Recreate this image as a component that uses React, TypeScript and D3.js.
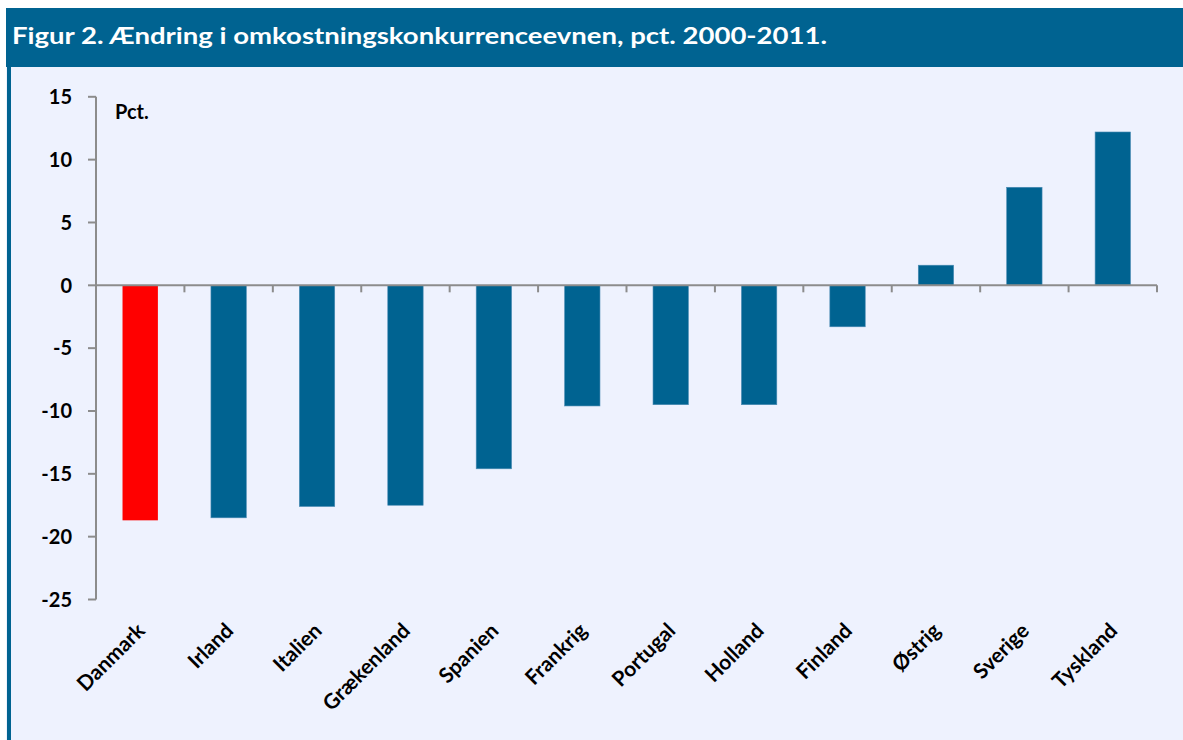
import React from "react";
import * as d3 from "d3";

const categories = ["Danmark", "Irland", "Italien", "Grækenland", "Spanien", "Frankrig", "Portugal", "Holland", "Finland", "Østrig", "Sverige", "Tyskland"];
const values = [-18.7, -18.5, -17.6, -17.5, -14.6, -9.6, -9.5, -9.5, -3.3, 1.6, 7.8, 12.2];
const highlight = ["Danmark"];
const yTicks = [15, 10, 5, 0, -5, -10, -15, -20, -25];
const title = "Figur 2. Ændring i omkostningskonkurrenceevnen, pct. 2000-2011.";
const unitLabel = "Pct.";

const W = 1183;
const H = 740;
const FONT = "Lato, 'Open Sans', 'DejaVu Sans', sans-serif";

export default function App() {
  const x0 = 96, x1 = 1157;
  const y = d3.scaleLinear().domain([-25, 15]).range([599.5, 96.8]);
  const x = d3.scaleBand<string>().domain(categories).range([x0, x1]).paddingInner(0.6).paddingOuter(0.3);
  const band = d3.scaleBand<string>().domain(categories).range([x0, x1]);
  const zeroY = y(0);

  return (
    <svg width={W} height={H} style={{ position: "absolute", left: 0, top: 0 }} fontFamily={FONT}>
      <rect x={0} y={0} width={W} height={H} fill="#ffffff" />
      <rect x={6} y={67} width={W - 6} height={H - 67} fill="#EEF2FE" />
      <rect x={6} y={8} width={W - 6} height={59} fill="#006391" />
      <rect x={7} y={67} width={4} height={H - 67} fill="#006391" />
      <text x={12} y={44} fill="#ffffff" fontSize={23} fontWeight={700} textLength={815} lengthAdjust="spacingAndGlyphs">{title}</text>

      {/* bars */}
      {categories.map((c, i) => {
        const v = values[i];
        const top = Math.min(y(v), zeroY);
        const h = Math.abs(y(v) - zeroY);
        return (
          <rect key={c} x={x(c)} y={top} width={x.bandwidth()} height={h}
            fill={highlight.includes(c) ? "#FF0000" : "#006391"}
            stroke={highlight.includes(c) ? "none" : "#4a8bb3"} strokeWidth={0.6} />
        );
      })}

      {/* y axis */}
      <line x1={x0} x2={x0} y1={y(15)} y2={y(-25)} stroke="#8c8c8c" strokeWidth={2} />
      {yTicks.map((t) => (
        <g key={t}>
          <line x1={x0 - 8} x2={x0} y1={y(t)} y2={y(t)} stroke="#8c8c8c" strokeWidth={2} />
          <text x={72} y={y(t)} dy="0.36em" textAnchor="end" fontSize={20} fontWeight={700} fill="#000">{t}</text>
        </g>
      ))}

      {/* x axis at zero */}
      <line x1={x0} x2={x1} y1={zeroY} y2={zeroY} stroke="#8c8c8c" strokeWidth={2} />
      {categories.map((c) => (
        <line key={"t" + c} x1={(band(c) as number) + band.bandwidth()} x2={(band(c) as number) + band.bandwidth()} y1={zeroY} y2={zeroY + 7} stroke="#8c8c8c" strokeWidth={2} />
      ))}

      {/* category labels */}
      {categories.map((c) => {
        const cx = (x(c) as number) + x.bandwidth() / 2 + 6;
        const cy = 632;
        return (
          <text key={"l" + c} x={cx} y={cy} textAnchor="end" fontSize={21} fontWeight={700} fill="#000"
            transform={`rotate(-45, ${cx}, ${cy})`}>{c}</text>
        );
      })}

      <text x={115} y={119} fontSize={20} fontWeight={700} fill="#000">{unitLabel}</text>
    </svg>
  );
}
